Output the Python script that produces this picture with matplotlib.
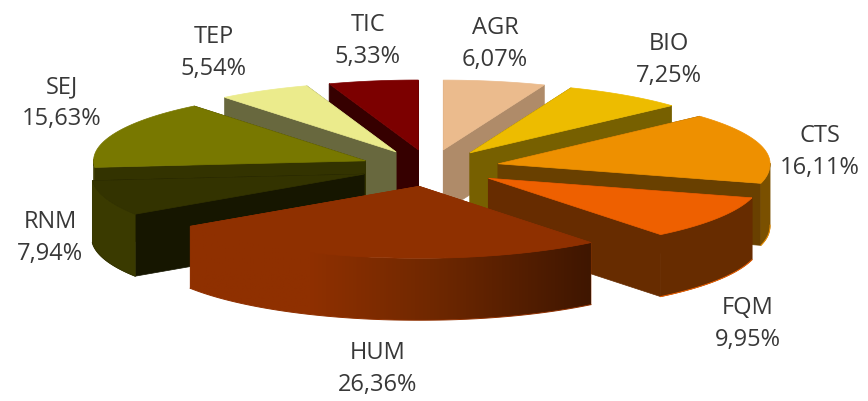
import numpy as np
import matplotlib
matplotlib.use("Agg")
import matplotlib.pyplot as plt
from matplotlib.colors import LinearSegmentedColormap
from matplotlib.patches import Polygon

# ---- shares, clockwise from 12 o'clock ----
names = ["AGR", "BIO", "CTS", "FQM", "HUM", "RNM", "SEJ", "TEP", "TIC"]
shares = [6.07, 7.25, 16.11, 9.95, 26.36, 7.94, 15.63, 5.54, 5.33]

top_colors = ["#EBBB8D", "#EDBC00", "#EE9000", "#EE6000", "#8F3000",
              "#333300", "#787800", "#EBEB8C", "#7C0000"]
side_colors = ["#AF8B69", "#776000", "#694000", "#672C00", "#8F3000",
               "#161600", "#333300", "#68683E", "#360000"]
outer_colors = ["#AF8B69", "#776000", "#7A5000", "#672C00", "#8F3000",
                "#3A3A00", "#3A3A00", "#68683E", "#360000"]

label_pos = [(495, 44), (669, 60), (820, 152), (748, 324), (378, 369),
             (50, 238), (62, 103), (214, 53), (368, 41)]

# pie geometry in pixels
CX, CY = 430, 169
RX, RY = 272, 72
EXPLODE = 0.257
HEIGHT = 62
PERSP = 0.015

hum_cmap = LinearSegmentedColormap.from_list(
    "hum", [(0, "#8F3000"), (0.3, "#8F3000"), (0.6, "#702800"), (1, "#3F1600")])


def project(wx, wy):
    s = 1 - PERSP * np.minimum(wy, 0)
    return CX + RX * wx * s, CY - RY * wy * (1 - 0.02 * np.maximum(wy, 0))


def wall_outline(xs, ys):
    return np.r_[xs, xs[::-1]], np.r_[ys, ys[::-1] + HEIGHT]


fig = plt.figure(figsize=(8.68, 4.02), dpi=100)
ax = fig.add_axes([0, 0, 1, 1])

edges = np.radians(np.cumsum([0] + shares) / sum(shares) * 360)
mids = (edges[:-1] + edges[1:]) / 2

# back slices first
order = np.argsort(-np.cos(mids))
for i in order:
    ox, oy = EXPLODE * np.sin(mids[i]), EXPLODE * np.cos(mids[i])
    theta = np.linspace(edges[i], edges[i + 1], 90)
    arc_x, arc_y = project(ox + np.sin(theta), oy + np.cos(theta))
    vx, vy = project(ox, oy)

    # radial walls
    for end in (0, -1):
        wx, wy = wall_outline(np.array([vx, arc_x[end]]), np.array([vy, arc_y[end]]))
        ax.fill(wx, wy, facecolor=side_colors[i], edgecolor=side_colors[i], linewidth=0.5)

    # outer wall, front facing part only
    front = np.cos(theta) < 0.02
    if names[i] == "HUM":
        wx, wy = wall_outline(arc_x, arc_y)
        wall = Polygon(np.c_[wx, wy], closed=True, facecolor="none", edgecolor="none")
        ax.add_patch(wall)
        img = ax.imshow(np.linspace(0, 1, 256).reshape(1, -1), cmap=hum_cmap, aspect="auto",
                        extent=[arc_x.min(), arc_x.max(), arc_y.max() + HEIGHT, arc_y.min()],
                        zorder=wall.get_zorder())
        img.set_clip_path(wall)
    elif front.any():
        wx, wy = wall_outline(arc_x[front], arc_y[front])
        ax.fill(wx, wy, facecolor=outer_colors[i], edgecolor=outer_colors[i], linewidth=0.5)
    if front.sum() > 15:
        ax.plot(arc_x[front], arc_y[front] + HEIGHT, color=top_colors[i], lw=0.7)

    ax.fill(np.r_[vx, arc_x], np.r_[vy, arc_y], facecolor=top_colors[i],
            edgecolor=top_colors[i], linewidth=0.5, zorder=3 if names[i] == "HUM" else None)

ax.set_xlim(0, 868)
ax.set_ylim(402, 0)
ax.axis("off")

for name, share, (lx, ly) in zip(names, shares, label_pos):
    label = f"{name}\n{share:.2f}%".replace(".", ",")
    ax.text(lx, ly, label, ha="center", va="center", fontsize=17, color="#383838",
            family="Open Sans", linespacing=1.45, zorder=5)

fig.savefig("out.png", dpi=100)
